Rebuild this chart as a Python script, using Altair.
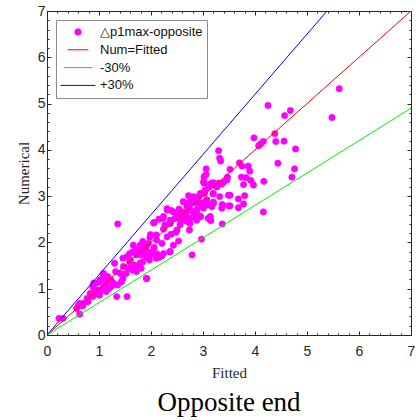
import altair as alt
import pandas as pd

# ---- data ----
fitted = [
    5.62, 4.25, 4.57, 4.68, 5.48, 4.38, 3.98, 4.07, 4.11, 4.16, 4.40, 4.56, 4.78, 4.44, 4.76, 4.71,
    3.70, 3.75, 3.87, 3.90, 3.74, 3.83, 3.92, 3.78, 3.97, 4.17, 3.80, 3.68, 3.78, 4.16, 3.52, 3.52,
    3.30, 3.32, 3.34, 3.06, 3.06, 3.02, 3.02, 3.52, 3.20, 3.14, 3.30, 3.40, 3.47, 2.98, 3.03, 3.19,
    3.20, 3.32, 3.37, 3.49, 3.49, 2.72, 2.62, 2.74, 2.85, 2.96, 3.00, 3.06, 3.17, 2.31, 2.39, 2.54,
    2.59, 2.69, 2.75, 2.82, 2.88, 2.95, 2.68, 2.75, 2.82, 2.61, 2.70, 3.12, 3.15, 3.37, 2.97, 2.79,
    2.06, 2.15, 2.23, 2.27, 2.37, 2.46, 2.53, 2.56, 2.74, 2.39, 2.48, 2.53, 2.43, 2.24, 2.31, 2.21,
    2.11, 2.06, 1.98, 1.95, 1.86, 1.79, 1.73, 1.66, 1.84, 1.92, 2.02, 2.11, 2.24, 2.36, 2.21, 2.16,
    1.95, 1.36, 2.05, 1.99, 2.10, 1.84, 1.91, 1.75, 1.65, 1.59, 1.72, 1.81, 1.91, 2.04, 2.10, 1.97,
    1.84, 1.46, 1.59, 1.68, 1.56, 1.65, 1.75, 1.81, 1.72, 1.30, 1.32, 1.17, 1.23, 1.11, 1.08, 1.27,
    1.36, 1.43, 1.14, 1.01, 0.95, 0.88, 0.91, 0.98, 1.08, 0.83, 0.88, 1.01, 1.14, 1.20, 1.46, 1.52,
    1.91, 1.34, 1.54, 0.63, 0.69, 0.79, 0.60, 0.63, 0.23, 0.31, 3.46, 3.17, 3.01, 3.10, 3.20, 2.95,
    3.04, 3.07, 3.14, 2.91, 2.82, 2.75, 2.91, 3.01, 2.85, 2.69, 2.56, 3.10, 2.88, 2.75, 2.62, 2.82,
    2.95, 3.36, 3.68, 3.36, 3.20, 2.24, 2.31, 2.43, 2.37, 2.50, 2.56, 2.69, 2.82, 2.88, 3.07, 3.14,
    3.20, 3.27, 2.37, 1.92, 1.86, 1.60, 1.47, 1.41, 1.79, 1.54, 1.63, 1.09, 1.15, 1.02, 0.90, 0.96,
    0.99, 1.22, 1.28, 1.09, 0.70, 0.64, 0.57, 0.77, 0.90,
]
numerical = [
    5.32, 4.96, 4.74, 4.85, 4.70, 4.35, 4.26, 4.09, 4.13, 4.18, 4.18, 4.19, 4.02, 3.71, 3.59, 3.41,
    3.72, 3.65, 3.65, 3.54, 3.41, 3.40, 3.34, 3.25, 3.24, 3.32, 3.01, 2.94, 2.83, 2.66, 3.02, 2.79,
    3.98, 3.82, 3.76, 3.59, 3.47, 3.42, 3.28, 3.58, 3.29, 3.26, 3.28, 3.30, 3.41, 3.06, 3.06, 3.05,
    2.87, 2.99, 2.82, 3.02, 2.79, 3.01, 2.88, 2.87, 2.86, 2.86, 2.77, 2.81, 2.77, 2.73, 2.69, 2.72,
    2.66, 2.77, 2.70, 2.66, 2.70, 2.56, 2.56, 2.52, 2.54, 2.48, 2.45, 2.52, 2.47, 2.40, 2.07, 1.73,
    2.43, 2.50, 2.52, 2.38, 2.48, 2.52, 2.59, 2.38, 2.27, 2.18, 2.22, 2.03, 1.94, 2.29, 2.12, 1.98,
    2.05, 1.89, 2.11, 1.98, 1.98, 1.94, 1.84, 1.94, 1.81, 1.80, 1.80, 1.76, 1.76, 1.80, 1.71, 1.68,
    1.69, 2.40, 2.42, 2.17, 2.16, 2.02, 1.91, 1.84, 1.80, 1.76, 1.73, 1.73, 1.69, 1.76, 1.66, 1.62,
    1.58, 1.66, 1.58, 1.51, 1.44, 1.40, 1.48, 1.44, 1.37, 1.55, 1.37, 1.26, 1.19, 1.19, 1.30, 1.08,
    1.08, 1.15, 1.08, 1.15, 1.12, 1.04, 0.94, 0.97, 0.97, 0.90, 0.83, 0.86, 0.94, 1.01, 1.22, 1.33,
    1.22, 0.83, 0.83, 0.68, 0.63, 0.72, 0.63, 0.45, 0.36, 0.36, 3.35, 3.28, 3.31, 3.20, 3.06, 3.06,
    3.13, 2.92, 2.81, 2.99, 2.92, 2.81, 2.77, 2.74, 2.63, 2.66, 2.59, 2.52, 2.48, 2.41, 2.48, 2.56,
    2.56, 2.74, 2.75, 3.26, 3.24, 2.56, 2.70, 2.66, 2.41, 2.27, 2.48, 2.84, 2.99, 2.63, 2.92, 2.56,
    2.84, 3.20, 1.80, 1.22, 1.91, 1.62, 1.48, 1.33, 1.55, 1.69, 1.44, 1.33, 1.19, 1.19, 1.12, 0.97,
    0.90, 1.04, 1.12, 1.04, 0.68, 0.65, 0.57, 0.79, 0.86,
]

series_names = ["\u25b3p1max-opposite", "Num=Fitted", "-30%", "+30%"]
series_colors = ["#ff00ff", "#ff0000", "#00ee00", "#0000ff"]
ref_fitted = [0, 7]
ratios = [1.0, 0.7, 1.3]

major = [0, 1, 2, 3, 4, 5, 6, 7]
minor = [round(i * 0.2, 1) for i in range(36)]

pts = pd.DataFrame({"Fitted": fitted, "Numerical": numerical, "series": series_names[0]})

def ref_df(i):
    r = ratios[i]
    return pd.DataFrame({"Fitted": ref_fitted,
                         "Numerical": [v * r for v in ref_fitted],
                         "series": series_names[i + 1]})

INK = "#262626"
dom = [0, 7]
xs = alt.Scale(domain=dom, nice=False, zero=False)
ys = alt.Scale(domain=dom, nice=False, zero=False)

leg = alt.Legend(title=None, orient="none", legendX=9, legendY=9,
                 labelFont="Liberation Sans", labelFontSize=13, labelColor="#111111",
                 strokeColor="#8a8a8a", fillColor="white", padding=4,
                 clipHeight=16, rowPadding=1.8, labelOffset=4, symbolStrokeWidth=1,
                 symbolOpacity=1)
color_scale = alt.Scale(domain=series_names, range=series_colors)
shape_scale = alt.Scale(domain=series_names, range=["circle", "stroke", "stroke", "stroke"])
size_scale = alt.Scale(domain=series_names, range=[40, 1225, 1225, 1225])

def ax(orient, values, tick, domain=False):
    return alt.Axis(orient=orient, values=values, tickSize={"expr": str(-tick)},
                    labels=False, domain=domain, grid=False, title=None,
                    domainColor=INK, tickColor=INK)

x_main = alt.Axis(orient="bottom", values=major, tickSize={"expr": "-4"}, grid=False,
                  domain=True, domainColor=INK, tickColor=INK, format="d",
                  labelFont="Liberation Sans", labelFontSize=14, labelColor=INK,
                  labelPadding=13, labelFlush=False,
                  title="Fitted", titleFont="Liberation Serif", titleFontSize=15,
                  titleFontWeight="normal", titleColor=INK, titlePadding=7)
y_main = alt.Axis(orient="left", values=major, tickSize={"expr": "-4"}, grid=False,
                  domain=True, domainColor=INK, tickColor=INK, format="d",
                  labelFont="Liberation Sans", labelFontSize=14, labelColor=INK,
                  labelPadding=6, labelFlush=False,
                  title="Numerical", titleFont="Liberation Serif", titleFontSize=15,
                  titleFontWeight="normal", titleColor=INK, titlePadding=6)

points = alt.Chart(pts).mark_point(filled=True, opacity=1, strokeWidth=0.6).encode(
    x=alt.X("Fitted:Q", scale=xs, axis=x_main),
    y=alt.Y("Numerical:Q", scale=ys, axis=y_main),
    fill=alt.Fill("series:N", scale=color_scale, legend=leg, sort=None),
    stroke=alt.Stroke("series:N", scale=color_scale, legend=leg, sort=None),
    shape=alt.Shape("series:N", scale=shape_scale, legend=leg, sort=None),
    size=alt.Size("series:N", scale=size_scale, legend=leg, sort=None),
)

def line_layer(i, xaxis, yaxis):
    return alt.Chart(ref_df(i)).mark_line(strokeWidth=1, clip=True).encode(
        x=alt.X("Fitted:Q", scale=xs, axis=xaxis),
        y=alt.Y("Numerical:Q", scale=ys, axis=yaxis),
        stroke=alt.Stroke("series:N", scale=color_scale, legend=leg, sort=None),
    )

red = line_layer(0, ax("bottom", minor, 2), ax("left", minor, 2))
green = line_layer(1, ax("top", major, 4, domain=True), ax("right", major, 4, domain=True))
blue = line_layer(2, ax("top", minor, 2), ax("right", minor, 2))

chart = alt.layer(points, red, green, blue).resolve_axis(
    x="independent", y="independent"
).properties(
    width=364, height=324,
    padding={"left": 47, "top": 11, "right": 5, "bottom": 85},
    autosize=alt.AutoSizeParams(type="none"),
    title=alt.TitleParams("Opposite end", orient="bottom", anchor="middle",
                          font="Liberation Serif", fontSize=27, fontWeight="normal",
                          color="black", offset=10),
).configure_view(stroke=None).configure(background="white")

chart.save("out.html", embed_options={"renderer": "svg", "actions": False})
